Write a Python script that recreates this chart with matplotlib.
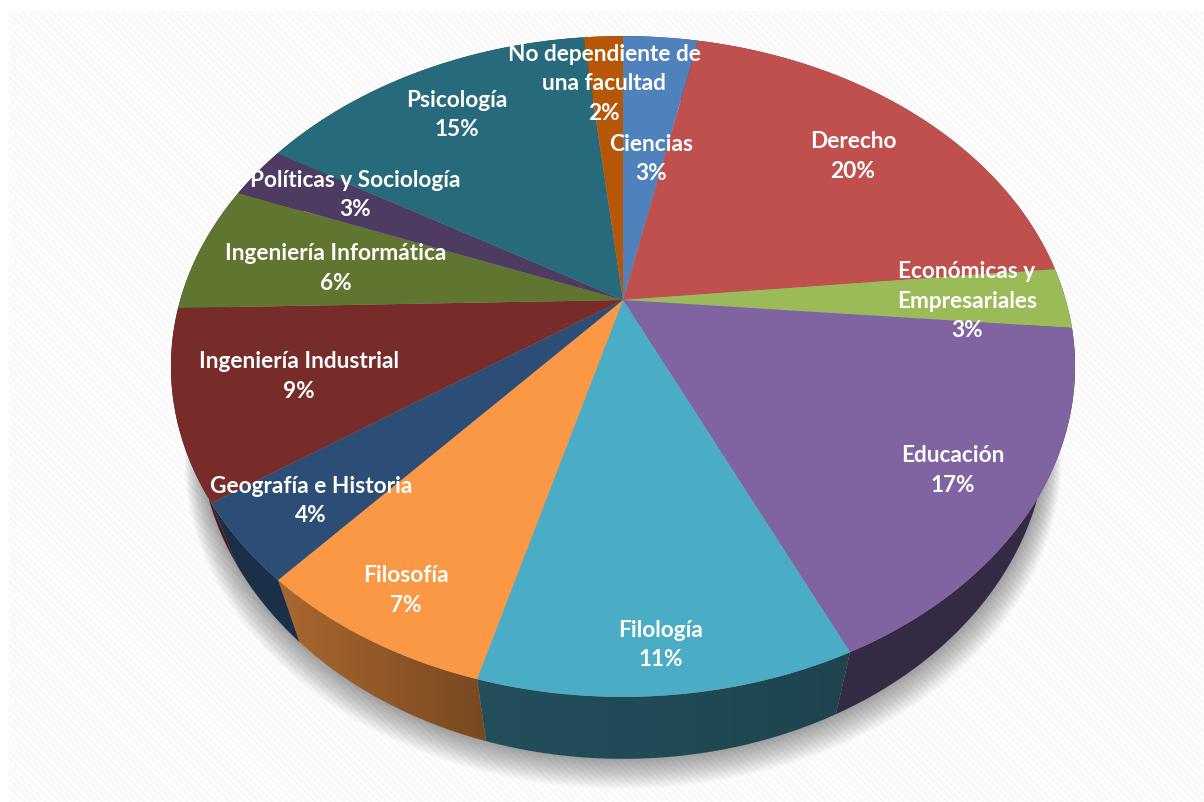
import numpy as np
import matplotlib
matplotlib.use('Agg')
import matplotlib.pyplot as plt
from matplotlib.colors import to_rgb
from matplotlib.patches import Polygon
from matplotlib.path import Path
from matplotlib.transforms import Transform

### Data
facultades = ['Ciencias', 'Derecho', 'Económicas y\nEmpresariales', 'Educación', 'Filología', 'Filosofía',
              'Geografía e Historia', 'Ingeniería Industrial', 'Ingeniería Informática',
              'Políticas y Sociología', 'Psicología', 'No dependiente de\nuna facultad']
porcentajes = [3.25, 20.16, 2.97, 16.74, 11.16, 7.22, 3.9, 9.2, 6.3, 2.6, 14.8, 1.7]
colores = ['#4F81BD', '#C0504D', '#9BBB59', '#8064A2', '#4BACC6', '#FB9846',
           '#2C4D75', '#772C2A', '#5F7530', '#4D3B62', '#276A7C', '#B65708']

### Style and layout, all in pixels
sombra_izq = [.5, .5, .5, .42, .46, .68, .62, .6, .5, .5, .5, .5]
sombra_der = [.5, .5, .5, .42, .40, .48, .62, .6, .5, .5, .5, .5]
texto_x = [651, 853, 967, 953, 661, 406, 311, 299, 336, 355, 457, 604]
texto_y = [151, 148, 278, 462, 637, 582, 493, 368, 260, 187, 107, 61]
LINEA = 29.5

CX, CY = 623, 300  # where the slices meet
A, B, K = 442.8, 317, .2012  # width, height, perspective
FONDO_X, FONDO_Y = .938, 62  # lower disc: x scale and y shift


def tilt(x, y):
    """ Unit disc to pixels, top of the disc further away """
    w = 1 + K*y
    return CX + A*x/w, CY - B*y/w


class TiltTransform(Transform):
    input_dims = 2
    output_dims = 2
    is_separable = False
    has_inverse = False

    def transform_non_affine(self, xy):
        xy = np.asarray(xy)
        return np.column_stack(tilt(xy[:, 0], xy[:, 1]))

    def transform_path_non_affine(self, path):
        pts = []
        for bez, code in path.iter_bezier():
            pts.append(bez(np.linspace(0, 1, 30)))
        return Path(self.transform_non_affine(np.concatenate(pts)))


fig = plt.figure(figsize=(12.04, 8.02), dpi=100)
ax = fig.add_axes([0, 0, 1, 1])

# striped background, tiles of 71 px
yy, xx = np.mgrid[11:802, 9:1204]
franjas = np.sin(2*np.pi*(((xx - 9) % 71) - ((yy - 11) % 71))/7.1)
ax.imshow(.982 + .012*franjas, cmap='gray', vmin=0, vmax=1, extent=(9, 1204, 802, 11),
          aspect='auto', interpolation='bilinear', zorder=0)

# the slices themselves
wedges, _ = ax.pie(porcentajes, colors=colores, startangle=90, counterclock=False,
                   wedgeprops={'linewidth': 0, 'zorder': 3})
for w in wedges:
    w.set_transform(TiltTransform() + ax.transData)

# soft shadow under the disc
t = np.linspace(0, 2*np.pi, 400)
bx, by = tilt(np.sin(t), np.cos(t))
for i in range(20, 0, -1):
    sx = CX + (bx - CX)*(FONDO_X + i*.0016)
    sy = by + FONDO_Y + i*1.5
    ax.add_patch(Polygon(np.column_stack((sx, sy)), facecolor='black', edgecolor='none', alpha=.02, zorder=1))

# side wall of each slice
bordes = np.cumsum([0] + porcentajes)/100*2*np.pi
rampa = np.linspace(0, 1, 40)[None, :, None]
for i in range(len(porcentajes)):
    t = np.linspace(bordes[i], bordes[i + 1], 80)
    rx, ry = tilt(np.sin(t), np.cos(t))
    lx = CX + (rx - CX)*FONDO_X
    ly = ry + FONDO_Y
    pts = np.column_stack((np.r_[rx, lx[::-1]], np.r_[ry, ly[::-1]]))
    base = np.array(to_rgb(colores[i]))
    grad = base*sombra_izq[i]*(1 - rampa) + base*sombra_der[i]*rampa
    im = ax.imshow(grad, extent=(pts[:, 0].min(), pts[:, 0].max(), pts[:, 1].max(), pts[:, 1].min()),
                   aspect='auto', interpolation='bilinear', zorder=2)
    im.set_clip_path(Polygon(pts, transform=ax.transData))

# labels, name lines then the rounded percent
for i, nombre in enumerate(facultades):
    lineas = nombre.split('\n') + ['%d%%' % round(porcentajes[i])]
    for j, linea in enumerate(lineas):
        ax.text(texto_x[i], texto_y[i] + j*LINEA, linea, color='white', fontsize=16.3, fontweight='bold',
                family='Lato', ha='center', va='baseline', zorder=5)

ax.set_aspect('auto')
ax.set_xlim(0, 1204)
ax.set_ylim(802, 0)
ax.axis('off')
fig.savefig('out.png', dpi=100, facecolor='white')
